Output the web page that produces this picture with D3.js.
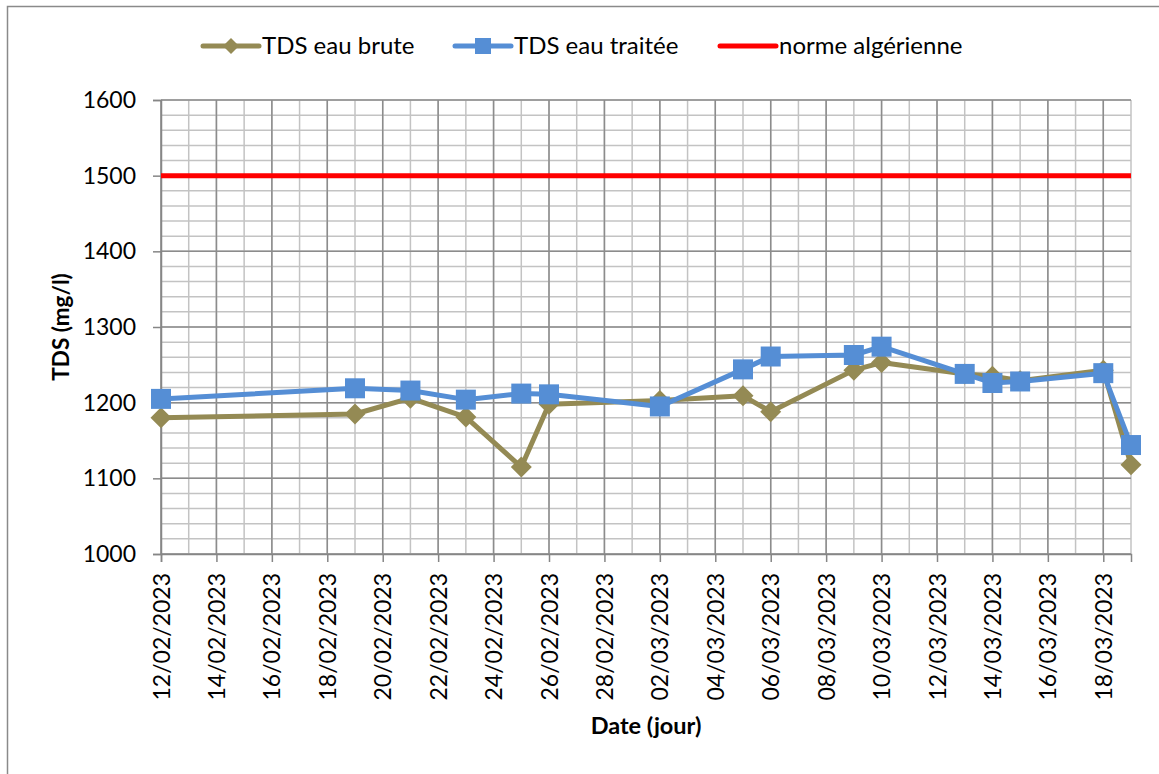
<!DOCTYPE html>
<html><head><meta charset="utf-8">
<script src="https://cdn.jsdelivr.net/npm/d3@7"></script>
<style>
body{margin:0;background:#fff}
svg{display:block}
text{font-family:Lato,"Open Sans",sans-serif;fill:#000}
</style>
</head><body>
<svg id="c" width="1159" height="774"></svg>
<script>
// ---- data ----
const dates = ["2023-02-12","2023-02-19","2023-02-21","2023-02-23","2023-02-25","2023-02-26",
  "2023-03-02","2023-03-05","2023-03-06","2023-03-09","2023-03-10","2023-03-13",
  "2023-03-14","2023-03-15","2023-03-18","2023-03-19"];
const brute   = [1180,1185,1206,1181,1115,1198,1203,1209,1188,1243,1253,1238,1235,1229,1243,1118];
const traitee = [1205,1219,1216,1204,1212,1211,1195,1244,1261,1263,1274,1238,1226,1228,1239,1144];
const norme = 1500;
const seriesNames = ["TDS eau brute","TDS eau traitée","norme algérienne"];
const yTicks = [1000,1100,1200,1300,1400,1500,1600];
const xDomain = ["2023-02-12","2023-03-19"];
const yTitle = "TDS (mg/l)";
const xTitle = "Date (jour)";

// ---- layout ----
const C_BRUTE = "#948A54", C_TRAIT = "#558ED5", C_NORME = "#FF0000";
const L = 161, R = 1131, T = 100, B = 554;
const parse = d3.utcParse("%Y-%m-%d");
const fmt = d3.utcFormat("%d/%m/%Y");
const svg = d3.select("#c");

svg.append("rect").attr("x",7.5).attr("y",6.5).attr("width",1170).attr("height",800)
  .attr("fill","#fff").attr("stroke","#8a8a8a").attr("stroke-width",1.5);

const x = d3.scaleUtc().domain(xDomain.map(parse)).range([L,R]);
const y = d3.scaleLinear().domain([yTicks[0], yTicks[yTicks.length-1]]).range([B,T]);

const days = d3.utcDay.range(x.domain()[0], d3.utcDay.offset(x.domain()[1],1));
const majorDays = d3.utcDay.range(x.domain()[0], d3.utcDay.offset(x.domain()[1],1), 2);
const minorY = d3.range(yTicks[0], yTicks[yTicks.length-1]+1, 20);

const grid = svg.append("g");
grid.selectAll(".mv").data(days).join("line")
  .attr("x1",d=>x(d)).attr("x2",d=>x(d)).attr("y1",T).attr("y2",B)
  .attr("stroke","#C3C3C3").attr("stroke-width",1.5);
grid.selectAll(".mh").data(minorY).join("line")
  .attr("x1",L).attr("x2",R).attr("y1",d=>y(d)).attr("y2",d=>y(d))
  .attr("stroke","#C3C3C3").attr("stroke-width",1.5);
grid.selectAll(".Mv").data(majorDays).join("line")
  .attr("x1",d=>x(d)).attr("x2",d=>x(d)).attr("y1",T).attr("y2",B)
  .attr("stroke","#8C8C8C").attr("stroke-width",1.5);
grid.selectAll(".Mh").data(yTicks).join("line")
  .attr("x1",L).attr("x2",R).attr("y1",d=>y(d)).attr("y2",d=>y(d))
  .attr("stroke","#8C8C8C").attr("stroke-width",1.5);

// axes
const yAxis = svg.append("g").attr("transform",`translate(${L},0)`)
  .call(d3.axisLeft(y).tickValues(yTicks).tickSize(8).tickPadding(17).tickFormat(d3.format("d")));
yAxis.selectAll("text").style("font-size","23px");
const xAxis = svg.append("g").attr("transform",`translate(0,${B})`)
  .call(d3.axisBottom(x).tickValues(majorDays).tickSize(8).tickFormat(fmt));
xAxis.selectAll("text").style("font-size","23px")
  .attr("transform","rotate(-90)").attr("text-anchor","end")
  .attr("x",-19).attr("y",0).attr("dy","0.35em");
svg.selectAll(".domain, .tick line").attr("stroke","#868686").attr("stroke-width",1.5);

// series
const pts = dates.map((d,i)=>({d:parse(d), b:brute[i], t:traitee[i]}));
const diamond = "M0,-10.5L10.5,0L0,10.5L-10.5,0Z";
const sq = "M-10,-10H10V10H-10Z";
svg.append("path").datum(pts)
  .attr("d", d3.line().x(p=>x(p.d)).y(p=>y(p.b)))
  .attr("fill","none").attr("stroke",C_BRUTE).attr("stroke-width",5).attr("stroke-linejoin","round");
svg.selectAll(".db").data(pts).join("path")
  .attr("d",diamond).attr("transform",p=>`translate(${x(p.d)},${y(p.b)})`).attr("fill",C_BRUTE);
svg.append("path").datum(pts)
  .attr("d", d3.line().x(p=>x(p.d)).y(p=>y(p.t)))
  .attr("fill","none").attr("stroke",C_TRAIT).attr("stroke-width",5).attr("stroke-linejoin","round");
svg.selectAll(".st").data(pts).join("path")
  .attr("d",sq).attr("transform",p=>`translate(${x(p.d)},${y(p.t)})`).attr("fill",C_TRAIT);
svg.append("line").attr("x1",L).attr("x2",R).attr("y1",y(norme)).attr("y2",y(norme))
  .attr("stroke",C_NORME).attr("stroke-width",5);

// titles
svg.append("text").attr("transform",`translate(61,${(T+B)/2}) rotate(-90)`)
  .attr("text-anchor","middle").attr("dy","0.35em")
  .style("font-size","22.5px").style("font-weight","bold").text(yTitle);
svg.append("text").attr("x",(L+R)/2).attr("y",734).attr("text-anchor","middle")
  .style("font-size","23.5px").style("font-weight","bold").text(xTitle);

// legend
const legX = [203, 455, 720];
const legY = 46;
const lg = svg.append("g");
seriesNames.forEach((name,i)=>{
  const g = lg.append("g").attr("transform",`translate(${legX[i]},${legY})`);
  const col = [C_BRUTE,C_TRAIT,C_NORME][i];
  g.append("line").attr("x1",0).attr("x2",56).attr("stroke",col).attr("stroke-width",5).attr("stroke-linecap","round");
  if(i===0) g.append("path").attr("d","M0,-8L8,0L0,8L-8,0Z").attr("transform","translate(28,0)").attr("fill",col);
  if(i===1) g.append("path").attr("d","M-8,-8H8V8H-8Z").attr("transform","translate(28,0)").attr("fill",col);
  g.append("text").attr("x",59).attr("dy","0.35em").style("font-size","24px").text(name);
});
</script>
</body></html>
